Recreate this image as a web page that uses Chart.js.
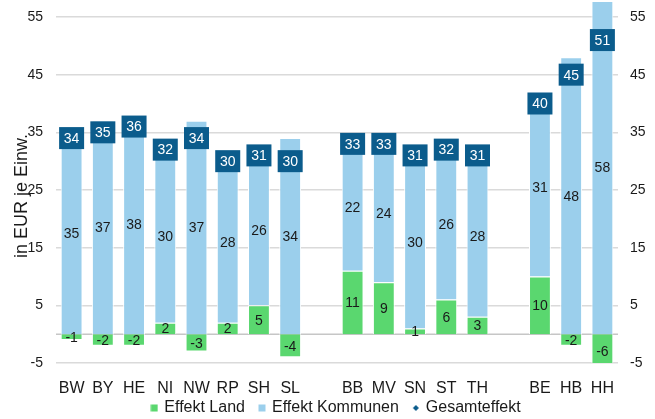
<!DOCTYPE html>
<html>
<head>
<meta charset="utf-8">
<script src="https://cdn.jsdelivr.net/npm/chart.js@4"></script>
<style>
  body { margin: 0; background: #fff; }
  #wrap { width: 655px; height: 419px; }
</style>
</head>
<body>
<div id="wrap"><canvas id="effekt"></canvas></div>
<script>
// Länder, leere Einträge = Lücke zwischen den Gruppen
const categories = ['BW', 'BY', 'HE', 'NI', 'NW', 'RP', 'SH', 'SL', '', 'BB', 'MV', 'SN', 'ST', 'TH', '', 'BE', 'HB', 'HH'];
const effektLand = [-1, -2, -2, 2, -3, 2, 5, -4, null, 11, 9, 1, 6, 3, null, 10, -2, -6];
const effektKommunen = [35, 37, 38, 30, 37, 28, 26, 34, null, 22, 24, 30, 26, 28, null, 31, 48, 58];
const gesamteffekt = [34, 35, 36, 32, 34, 30, 31, 30, null, 33, 33, 31, 32, 31, null, 40, 45, 51];
const yTicks = [-5, 5, 15, 25, 35, 45, 55];
const yTitle = 'in EUR je Einw.';

const GREEN = '#5ad76f';
const BLUE = '#9bcfec';
const DARK = '#0b5c8c';
const TEXT = '#1a1a1a';
const FONT = "'Liberation Sans', Arial, sans-serif";

function swatch(color, diamond) {
    const c = document.createElement('canvas');
    c.width = 8; c.height = 8;
    const g = c.getContext('2d');
    g.fillStyle = color;
    if (diamond) {
        g.beginPath();
        g.moveTo(4, 1); g.lineTo(7, 4); g.lineTo(4, 7); g.lineTo(1, 4);
        g.closePath();
        g.fill();
    } else {
        g.fillRect(0.5, 0.5, 7, 7);
    }
    return c;
}

const labelPlugin = {
    id: 'labelPlugin',
    beforeDatasetsDraw(chart) {
        const ctx = chart.ctx;
        const area = chart.chartArea;
        const y0 = chart.scales.y.getPixelForValue(0);
        ctx.save();
        ctx.strokeStyle = '#c6c6c6';
        ctx.lineWidth = 1.5;
        ctx.beginPath();
        ctx.moveTo(area.left, y0);
        ctx.lineTo(area.right, y0);
        ctx.stroke();
        ctx.restore();
    },
    afterDatasetsDraw(chart) {
        const ctx = chart.ctx;
        ctx.save();
        ctx.font = '14px ' + FONT;
        ctx.textAlign = 'center';
        ctx.textBaseline = 'middle';
        ctx.fillStyle = TEXT;
        [0, 1].forEach(di => {
            const values = chart.data.datasets[di].data;
            chart.getDatasetMeta(di).data.forEach((el, i) => {
                if (values[i] == null) return;
                ctx.fillText(String(values[i]), el.x, (el.y + el.base) / 2 + 1);
            });
        });
        chart.getDatasetMeta(2).data.forEach((pt, i) => {
            if (gesamteffekt[i] == null) return;
            ctx.fillStyle = DARK;
            ctx.fillRect(pt.x - 12.5, pt.y - 11, 25, 22);
            ctx.fillStyle = '#fff';
            ctx.fillText(String(gesamteffekt[i]), pt.x, pt.y + 1);
        });
        ctx.restore();
    },
    afterDraw(chart) {
        // Achsentitel links, leicht nach unten versetzt wie im Original
        const ctx = chart.ctx;
        ctx.save();
        ctx.translate(22, 196);
        ctx.rotate(-Math.PI / 2);
        ctx.font = '18px ' + FONT;
        ctx.fillStyle = TEXT;
        ctx.textAlign = 'center';
        ctx.textBaseline = 'middle';
        ctx.fillText(yTitle, 0, 0);
        ctx.restore();
    }
};

const legendFit = {
    id: 'legendFit',
    beforeInit(chart) {
        const fit = chart.legend.fit;
        chart.legend.fit = function () {
            fit.bind(chart.legend)();
            this.height = 21;
        };
    },
    afterLayout(chart) {
        // Legende über der Zeichenfläche zentrieren und etwas anheben
        const lg = chart.legend;
        lg.left += 9;
        lg.right += 9;
        lg.top = 385;
        lg.bottom = 419;
    }
};

function noPad(scale) {
    scale.paddingTop = 0;
    scale.paddingBottom = 0;
}

new Chart(document.getElementById('effekt'), {
    type: 'bar',
    data: {
        labels: categories,
        datasets: [
            {
                label: 'Effekt Land',
                data: effektLand,
                backgroundColor: GREEN,
                borderColor: '#fff',
                borderWidth: 1,
                barPercentage: 0.7,
                categoryPercentage: 1,
                yAxisID: 'y',
                order: 2
            },
            {
                label: 'Effekt Kommunen',
                data: effektKommunen,
                backgroundColor: BLUE,
                borderColor: '#fff',
                borderWidth: 1,
                barPercentage: 0.7,
                categoryPercentage: 1,
                yAxisID: 'y',
                order: 2
            },
            {
                type: 'line',
                label: 'Gesamteffekt',
                data: gesamteffekt,
                showLine: false,
                pointRadius: 0,
                pointStyle: 'rectRot',
                backgroundColor: DARK,
                borderColor: DARK,
                yAxisID: 'y1',
                order: 1
            }
        ]
    },
    options: {
        responsive: true,
        maintainAspectRatio: false,
        animation: false,
        layout: { padding: { top: 2, left: 0, right: 0, bottom: 0 } },
        scales: {
            x: {
                stacked: true,
                grid: { display: false, drawTicks: false },
                border: { display: false },
                ticks: { color: TEXT, font: { family: FONT, size: 16 }, padding: 16, autoSkip: false, maxRotation: 0 },
                afterFit(scale) { scale.height = 35; }
            },
            y: {
                stacked: true,
                position: 'left',
                min: -5,
                max: 57.6,
                afterBuildTicks(scale) { scale.ticks = yTicks.map(v => ({ value: v })); },
                grid: { color: '#dadada', lineWidth: 1.5, drawTicks: false },
                border: { display: false },
                ticks: { color: TEXT, font: { family: FONT, size: 14 }, padding: 13 },
                afterFit(scale) { scale.width = 56; noPad(scale); }
            },
            y1: {
                position: 'right',
                min: -5,
                max: 57.6,
                afterBuildTicks(scale) { scale.ticks = yTicks.map(v => ({ value: v })); },
                grid: { display: false, drawTicks: false },
                border: { display: false },
                ticks: { color: TEXT, font: { family: FONT, size: 14 }, padding: 12 },
                afterFit(scale) { scale.width = 37; noPad(scale); }
            }
        },
        plugins: {
            tooltip: { enabled: false },
            legend: {
                position: 'bottom',
                labels: {
                    usePointStyle: true,
                    pointStyleWidth: 4,
                    boxWidth: 8,
                    boxHeight: 8,
                    padding: 15,
                    color: TEXT,
                    font: { family: FONT, size: 16 },
                    generateLabels(chart) {
                        return chart.data.datasets.map((ds, i) => ({
                            text: ds.label,
                            datasetIndex: i,
                            fillStyle: ds.backgroundColor,
                            strokeStyle: ds.backgroundColor,
                            lineWidth: 0,
                            hidden: false,
                            fontColor: TEXT,
                            pointStyle: swatch(ds.backgroundColor, i === 2)
                        }));
                    }
                }
            }
        }
    },
    plugins: [labelPlugin, legendFit]
});
</script>
</body>
</html>
